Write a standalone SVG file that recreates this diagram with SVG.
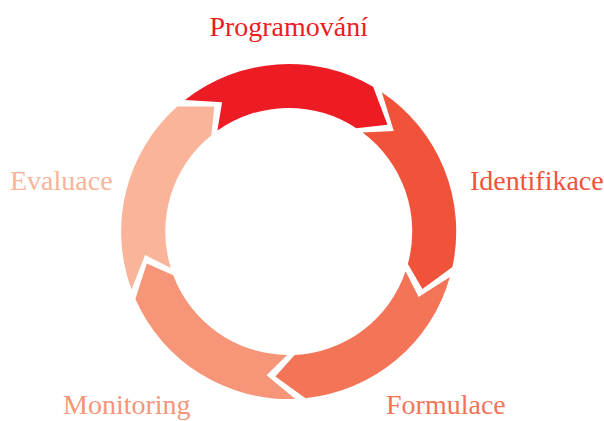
<svg xmlns="http://www.w3.org/2000/svg" width="604" height="421" viewBox="0 0 604 421">
<style>
.lbl{font-family:"Liberation Serif","Times New Roman",serif;font-size:28px}
</style>
<rect width="604" height="421" fill="#ffffff"/>
<g id="connectors"></g>
<g id="programovani">
<path d="M185.0,100.0 A167.5,167.5 0 0 1 373.1,86.8 L387.5,124.7 L356.4,128.2 A123.5,123.5 0 0 0 217.4,130.6 L222.1,102.2 Z" fill="#ED1C24"/>
<text class="lbl" x="288.7" y="36" text-anchor="middle" fill="#ED1C24">Programování</text>
</g>
<g id="identifikace">
<path d="M381.8,92.2 A167.5,167.5 0 0 1 452.4,267.0 L422.4,288.9 L407.9,264.0 A123.5,123.5 0 0 0 362.6,132.5 L393.8,130.9 Z" fill="#F0533A"/>
<text class="lbl" x="470" y="190" fill="#F0533A">Identifikace</text>
</g>
<g id="formulace">
<path d="M449.9,277.0 A167.5,167.5 0 0 1 305.5,398.2 L275.4,376.4 L294.6,354.9 A123.5,123.5 0 0 0 405.6,271.2 L418.6,297.0 Z" fill="#F47458"/>
<text class="lbl" x="386" y="414" fill="#F47458">Formulace</text>
</g>
<g id="monitoring">
<path d="M295.3,398.9 A167.5,167.5 0 0 1 135.4,299.0 L146.8,263.6 L173.2,275.2 A123.5,123.5 0 0 0 287.1,355.0 L266.6,375.3 Z" fill="#F69577"/>
<text class="lbl" x="63" y="414" fill="#F69577">Monitoring</text>
</g>
<g id="evaluace">
<path d="M131.5,289.5 A167.5,167.5 0 0 1 177.2,106.5 L214.3,106.5 L211.4,135.2 A123.5,123.5 0 0 0 170.8,268.1 L145.1,254.9 Z" fill="#F9B49A"/>
<text class="lbl" x="10" y="190" fill="#F9B49A">Evaluace</text>
</g>
</svg>
